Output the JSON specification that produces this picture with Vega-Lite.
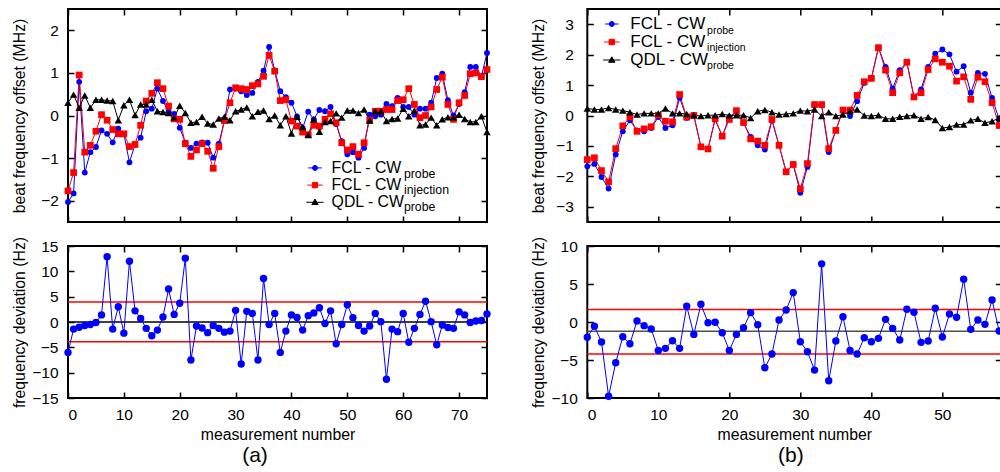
{
  "$schema": "https://vega.github.io/schema/vega-lite/v6.json",
  "background": "white",
  "padding": {"left": 10, "top": 7, "right": 0, "bottom": 0},
  "datasets": {
    "topA": [
      {"n":0,"s1":-2.03,"s2":-1.77,"s3":0.30},{"n":1,"s1":-1.83,"s2":-1.34,"s3":0.49},{"n":2,"s1":0.79,"s2":0.95,"s3":0.18},{"n":3,"s1":-1.34,"s2":-0.86,"s3":0.47},{"n":4,"s1":-0.86,"s2":-0.70,"s3":0.18},
      {"n":5,"s1":-0.74,"s2":-0.37,"s3":0.37},{"n":6,"s1":-0.35,"s2":0.02,"s3":0.37},{"n":7,"s1":-0.43,"s2":-0.11,"s3":0.35},{"n":8,"s1":-0.63,"s2":-0.33,"s3":0.34},{"n":9,"s1":-0.31,"s2":-0.43,"s3":-0.11},
      {"n":10,"s1":-0.43,"s2":-0.43,"s3":0.24},{"n":11,"s1":-1.10,"s2":-0.73,"s3":0.37},{"n":12,"s1":-0.68,"s2":-0.68,"s3":0.01},{"n":13,"s1":-0.52,"s2":-0.23,"s3":0.26},{"n":14,"s1":0.10,"s2":0.34,"s3":0.26},
      {"n":15,"s1":0.16,"s2":0.52,"s3":0.37},{"n":16,"s1":0.63,"s2":0.77,"s3":0.10},{"n":17,"s1":0.34,"s2":0.63,"s3":0.08},{"n":18,"s1":0.09,"s2":0.22,"s3":0.06},{"n":19,"s1":0.04,"s2":-0.08,"s3":-0.05},
      {"n":20,"s1":-0.29,"s2":-0.09,"s3":0.23},{"n":21,"s1":-0.64,"s2":-0.66,"s3":0.06},{"n":22,"s1":-0.76,"s2":-0.96,"s3":-0.17},{"n":23,"s1":-0.66,"s2":-0.81,"s3":-0.15},{"n":24,"s1":-0.63,"s2":-0.66,"s3":-0.03},
      {"n":25,"s1":-0.64,"s2":-0.84,"s3":-0.19},{"n":26,"s1":-0.99,"s2":-1.24,"s3":-0.21},{"n":27,"s1":-0.66,"s2":-0.73,"s3":-0.07},{"n":28,"s1":-0.12,"s2":-0.12,"s3":-0.03},{"n":29,"s1":0.61,"s2":0.30,"s3":-0.11},
      {"n":30,"s1":0.63,"s2":0.65,"s3":0.10},{"n":31,"s1":0.57,"s2":0.63,"s3":0.14},{"n":32,"s1":0.48,"s2":0.61,"s3":0.19},{"n":33,"s1":0.53,"s2":0.70,"s3":-0.02},{"n":34,"s1":0.79,"s2":0.74,"s3":0.09},
      {"n":35,"s1":1.05,"s2":0.92,"s3":0.12},{"n":36,"s1":1.61,"s2":1.41,"s3":-0.08},{"n":37,"s1":1.06,"s2":1.04,"s3":0.0},{"n":38,"s1":0.57,"s2":0.35,"s3":-0.23},{"n":39,"s1":0.43,"s2":0.37,"s3":-0.02},
      {"n":40,"s1":0.30,"s2":-0.13,"s3":-0.42},{"n":41,"s1":-0.02,"s2":-0.25,"s3":-0.03},{"n":42,"s1":-0.30,"s2":-0.39,"s3":-0.27},{"n":43,"s1":0.09,"s2":-0.45,"s3":-0.46},{"n":44,"s1":-0.09,"s2":-0.23,"s3":-0.09},
      {"n":45,"s1":0.13,"s2":-0.25,"s3":-0.38},{"n":46,"s1":0.10,"s2":-0.09,"s3":-0.15},{"n":47,"s1":0.20,"s2":0.04,"s3":-0.13},{"n":48,"s1":-0.20,"s2":-0.17,"s3":0.05},{"n":49,"s1":-0.60,"s2":-0.64,"s3":-0.05},
      {"n":50,"s1":-0.91,"s2":-0.81,"s3":0.12},{"n":51,"s1":-0.86,"s2":-0.73,"s3":0.12},{"n":52,"s1":-0.99,"s2":-0.91,"s3":0.06},{"n":53,"s1":-0.76,"s2":-0.64,"s3":0.14},{"n":54,"s1":0.02,"s2":-0.11,"s3":-0.12},
      {"n":55,"s1":-0.02,"s2":0.10,"s3":0.10},{"n":56,"s1":0.02,"s2":0.10,"s3":0.10},{"n":57,"s1":0.27,"s2":0.14,"s3":-0.13},{"n":58,"s1":0.22,"s2":0.14,"s3":-0.08},{"n":59,"s1":0.41,"s2":0.35,"s3":-0.07},
      {"n":60,"s1":0.20,"s2":0.37,"s3":0.16},{"n":61,"s1":0.20,"s2":0.63,"s3":-0.02},{"n":62,"s1":0.02,"s2":0.26,"s3":0.12},{"n":63,"s1":0.16,"s2":-0.05,"s3":-0.23},{"n":64,"s1":0.16,"s2":0.0,"s3":-0.21},
      {"n":65,"s1":0.30,"s2":0.20,"s3":-0.05},{"n":66,"s1":0.88,"s2":0.61,"s3":-0.23},{"n":67,"s1":0.98,"s2":0.90,"s3":-0.09},{"n":68,"s1":0.36,"s2":0.26,"s3":-0.04},{"n":69,"s1":0.0,"s2":-0.09,"s3":-0.04},
      {"n":70,"s1":0.27,"s2":0.30,"s3":0.02},{"n":71,"s1":0.55,"s2":0.47,"s3":-0.08},{"n":72,"s1":1.14,"s2":0.98,"s3":-0.15},{"n":73,"s1":1.14,"s2":1.00,"s3":-0.15},{"n":74,"s1":0.92,"s2":0.91,"s3":-0.02},
      {"n":75,"s1":1.47,"s2":1.08,"s3":-0.39}
    ],
    "topB": [
      {"n":0,"s1":-1.67,"s2":-1.45,"s3":0.23},{"n":1,"s1":-1.59,"s2":-1.39,"s3":0.20},{"n":2,"s1":-2.02,"s2":-1.81,"s3":0.20},{"n":3,"s1":-2.40,"s2":-2.18,"s3":0.25},{"n":4,"s1":-1.28,"s2":-1.09,"s3":0.20},
      {"n":5,"s1":-0.52,"s2":-0.34,"s3":0.16},{"n":6,"s1":-0.16,"s2":-0.05,"s3":0.11},{"n":7,"s1":-0.49,"s2":-0.52,"s3":0.03},{"n":8,"s1":-0.52,"s2":-0.44,"s3":0.07},{"n":9,"s1":-0.41,"s2":-0.37,"s3":0.07},
      {"n":10,"s1":-0.05,"s2":0.01,"s3":0.07},{"n":11,"s1":-0.41,"s2":-0.19,"s3":0.23},{"n":12,"s1":-0.32,"s2":-0.21,"s3":0.07},{"n":13,"s1":0.58,"s2":0.69,"s3":0.07},{"n":14,"s1":-0.08,"s2":-0.05,"s3":0.05},
      {"n":15,"s1":0.01,"s2":0.0,"s3":0.01},{"n":16,"s1":-1.03,"s2":-1.03,"s3":-0.02},{"n":17,"s1":-1.10,"s2":-1.10,"s3":0.01},{"n":18,"s1":-0.13,"s2":-0.11,"s3":0.01},{"n":19,"s1":-0.68,"s2":-0.68,"s3":0.05},
      {"n":20,"s1":-0.05,"s2":-0.13,"s3":0.0},{"n":21,"s1":0.12,"s2":0.16,"s3":0.01},{"n":22,"s1":-0.24,"s2":-0.23,"s3":0.01},{"n":23,"s1":-0.70,"s2":-0.77,"s3":-0.08},{"n":24,"s1":-0.98,"s2":-0.84,"s3":0.14},
      {"n":25,"s1":-1.12,"s2":-0.98,"s3":0.18},{"n":26,"s1":-0.16,"s2":-0.13,"s3":0.11},{"n":27,"s1":-0.98,"s2":-0.98,"s3":0.03},{"n":28,"s1":-1.85,"s2":-1.85,"s3":0.05},{"n":29,"s1":-1.61,"s2":-1.61,"s3":0.07},
      {"n":30,"s1":-2.54,"s2":-2.41,"s3":0.16},{"n":31,"s1":-1.69,"s2":-1.58,"s3":0.14},{"n":32,"s1":0.34,"s2":0.36,"s3":0.20},{"n":33,"s1":0.34,"s2":0.36,"s3":-0.02},{"n":34,"s1":-1.20,"s2":-1.09,"s3":0.11},
      {"n":35,"s1":-0.49,"s2":-0.49,"s3":-0.02},{"n":36,"s1":0.18,"s2":0.18,"s3":0.03},{"n":37,"s1":-0.02,"s2":0.18,"s3":0.14},{"n":38,"s1":0.47,"s2":0.66,"s3":0.20},{"n":39,"s1":1.07,"s2":1.11,"s3":0.0},
      {"n":40,"s1":1.22,"s2":1.22,"s3":-0.02},{"n":41,"s1":2.23,"s2":2.23,"s3":0.01},{"n":42,"s1":1.60,"s2":1.49,"s3":-0.11},{"n":43,"s1":0.89,"s2":0.75,"s3":-0.11},{"n":44,"s1":1.49,"s2":1.40,"s3":-0.04},
      {"n":45,"s1":1.75,"s2":1.75,"s3":-0.02},{"n":46,"s1":0.61,"s2":0.61,"s3":0.01},{"n":47,"s1":0.86,"s2":0.75,"s3":-0.11},{"n":48,"s1":1.60,"s2":1.51,"s3":-0.05},{"n":49,"s1":2.03,"s2":1.86,"s3":-0.15},
      {"n":50,"s1":2.17,"s2":1.75,"s3":-0.41},{"n":51,"s1":2.01,"s2":1.62,"s3":-0.38},{"n":52,"s1":1.44,"s2":1.13,"s3":-0.30},{"n":53,"s1":1.62,"s2":1.27,"s3":-0.30},{"n":54,"s1":0.75,"s2":0.53,"s3":-0.16},
      {"n":55,"s1":1.40,"s2":1.26,"s3":-0.11},{"n":56,"s1":1.37,"s2":1.11,"s3":-0.24},{"n":57,"s1":0.58,"s2":0.42,"s3":-0.19},{"n":58,"s1":-0.13,"s2":-0.33,"s3":-0.08}
    ],
    "devA": [
      {"n":0,"d":-6.0},{"n":1,"d":-1.4},{"n":2,"d":-1.05},{"n":3,"d":-0.7},{"n":4,"d":-0.5},{"n":5,"d":-0.1},{"n":6,"d":1.4},{"n":7,"d":12.9},{"n":8,"d":-1.4},{"n":9,"d":3.0},
      {"n":10,"d":-2.2},{"n":11,"d":12.0},{"n":12,"d":2.2},{"n":13,"d":0.7},{"n":14,"d":-1.25},{"n":15,"d":-2.7},{"n":16,"d":-1.6},{"n":17,"d":1.0},{"n":18,"d":6.5},{"n":19,"d":1.5},
      {"n":20,"d":3.7},{"n":21,"d":12.6},{"n":22,"d":-7.5},{"n":23,"d":-0.8},{"n":24,"d":-1.2},{"n":25,"d":-2.1},{"n":26,"d":-0.7},{"n":27,"d":-1.25},{"n":28,"d":-2.0},{"n":29,"d":-1.8},
      {"n":30,"d":2.3},{"n":31,"d":-8.3},{"n":32,"d":2.1},{"n":33,"d":1.7},{"n":34,"d":-7.5},{"n":35,"d":8.6},{"n":36,"d":-0.5},{"n":37,"d":1.7},{"n":38,"d":-6.0},{"n":39,"d":-1.8},
      {"n":40,"d":1.4},{"n":41,"d":0.9},{"n":42,"d":-1.6},{"n":43,"d":1.25},{"n":44,"d":1.8},{"n":45,"d":2.8},{"n":46,"d":-0.3},{"n":47,"d":2.2},{"n":48,"d":-4.3},{"n":49,"d":-0.5},
      {"n":50,"d":3.4},{"n":51,"d":0.85},{"n":52,"d":-0.7},{"n":53,"d":-1.8},{"n":54,"d":-0.8},{"n":55,"d":1.7},{"n":56,"d":0.07},{"n":57,"d":-11.3},{"n":58,"d":-1.4},{"n":59,"d":-1.9},
      {"n":60,"d":1.7},{"n":61,"d":-4.0},{"n":62,"d":-1.25},{"n":63,"d":1.5},{"n":64,"d":4.1},{"n":65,"d":0.07},{"n":66,"d":-4.5},{"n":67,"d":-0.6},{"n":68,"d":-1.1},{"n":69,"d":-1.25},
      {"n":70,"d":2.0},{"n":71,"d":1.4},{"n":72,"d":-0.1},{"n":73,"d":0.2},{"n":74,"d":0.3},{"n":75,"d":1.6}
    ],
    "devB": [
      {"n":0,"d":-2.0},{"n":1,"d":-0.57},{"n":2,"d":-2.64},{"n":3,"d":-9.76},{"n":4,"d":-5.36},{"n":5,"d":-1.93},{"n":6,"d":-2.86},{"n":7,"d":0.13},{"n":8,"d":-0.48},{"n":9,"d":-0.92},
      {"n":10,"d":-3.74},{"n":11,"d":-3.47},{"n":12,"d":-2.46},{"n":13,"d":-3.47},{"n":14,"d":2.07},{"n":15,"d":-1.63},{"n":16,"d":2.33},{"n":17,"d":-0.09},{"n":18,"d":-0.04},{"n":19,"d":-1.41},
      {"n":20,"d":-3.74},{"n":21,"d":-1.63},{"n":22,"d":-0.75},{"n":23,"d":1.23},{"n":24,"d":-0.35},{"n":25,"d":-6.02},{"n":26,"d":-4.22},{"n":27,"d":0.26},{"n":28,"d":1.58},{"n":29,"d":3.87},
      {"n":30,"d":-2.59},{"n":31,"d":-3.91},{"n":32,"d":-6.33},{"n":33,"d":7.65},{"n":34,"d":-7.74},{"n":35,"d":-2.51},{"n":36,"d":0.70},{"n":37,"d":-3.74},{"n":38,"d":-4.22},{"n":39,"d":-2.07},
      {"n":40,"d":-2.59},{"n":41,"d":-2.15},{"n":42,"d":0.35},{"n":43,"d":-0.84},{"n":44,"d":-2.37},{"n":45,"d":1.67},{"n":46,"d":1.28},{"n":47,"d":-2.68},{"n":48,"d":-2.51},{"n":49,"d":1.80},
      {"n":50,"d":-1.98},{"n":51,"d":1.06},{"n":52,"d":0.62},{"n":53,"d":5.63},{"n":54,"d":-0.97},{"n":55,"d":0.26},{"n":56,"d":-0.31},{"n":57,"d":2.90},{"n":58,"d":-1.19}
    ],
    "refA": [{"kind":"mean","y":0},{"kind":"bound","y":3.95},{"kind":"bound","y":-3.9}],
    "refB": [{"kind":"mean","y":-1.23},{"kind":"bound","y":1.63},{"kind":"bound","y":-4.22}]
  },
  "columns": 2,
  "spacing": {"row": 24, "column": 100.3},
  "bounds": "flush",
  "resolve": {
    "scale": {"color": "independent", "shape": "independent", "size": "independent"},
    "legend": {"color": "independent", "shape": "independent", "size": "independent"}
  },
  "concat": [
    {
      "width": 419, "height": 213,
      "data": {"name": "topA"},
      "transform": [{"fold": ["s1", "s2", "s3"], "as": ["series", "v"]}],
      "layer": [
        {
          "mark": {"type": "line", "strokeWidth": 1},
          "encoding": {
            "x": {"field": "n", "type": "quantitative", "scale": {"domain": [0, 75], "nice": false, "zero": false},
                  "axis": {"orient": "bottom", "values": [0,10,20,30,40,50,60,70], "labels": false, "title": null}},
            "y": {"field": "v", "type": "quantitative", "scale": {"domain": [-2.5, 2.5], "nice": false, "zero": false},
                  "axis": {"orient": "left", "values": [-2,-1,0,1,2], "title": "beat frequency offset (MHz)", "titleX": -43.5, "titleBaseline": "alphabetic", "labelPadding": 15.7}},
            "color": {"field": "series", "type": "nominal", "scale": {"domain": ["s1","s2","s3"], "range": ["#0000ff","#ff0000","#000000"]}}
          }
        },
        {
          "mark": {"type": "point", "filled": true, "opacity": 1, "strokeWidth": 0},
          "encoding": {
            "x": {"field": "n", "type": "quantitative", "scale": {"domain": [0, 75], "nice": false, "zero": false},
                  "axis": {"orient": "top", "values": [0,10,20,30,40,50,60,70], "labels": false, "title": null}},
            "y": {"field": "v", "type": "quantitative", "scale": {"domain": [-2.5, 2.5], "nice": false, "zero": false},
                  "axis": {"orient": "right", "values": [-2,-1,0,1,2], "labels": false, "title": null}},
            "color": {"field": "series", "type": "nominal", "scale": {"domain": ["s1","s2","s3"], "range": ["#0000ff","#ff0000","#000000"]},
                      "legend": {"orient": "none", "legendX": 239.1, "legendY": 151, "title": null, "padding": 0,
                                 "labelExpr": "datum.label == 's3' ? 'QDL - CW' : 'FCL - CW'",
                                 "labelFontSize": 15.8, "labelOffset": 8.7, "rowPadding": 0.2, "symbolSize": 25,
                                 "encoding": {"symbols": {
                                   "shape": {"value": {"expr": "datum.value == 's1' ? 'M-2.3,0H2.3M0.86,0A0.86,0.86,0,1,1,-0.86,0A0.86,0.86,0,1,1,0.86,0Z' : datum.value == 's2' ? 'M-2.3,0H2.3M-0.8,-0.8H0.8V0.8H-0.8Z' : 'M-2.3,0H2.3M0,-0.85L0.85,0.6H-0.85Z'"}},
                                   "fill": {"value": {"expr": "datum.value == 's1' ? '#0000ff' : datum.value == 's2' ? '#ff0000' : '#000000'"}},
                                   "stroke": {"value": {"expr": "datum.value == 's1' ? '#0000ff' : datum.value == 's2' ? '#ff0000' : '#000000'"}},
                                   "strokeWidth": {"value": 1}, "opacity": {"value": 1}, "fillOpacity": {"value": 1}}}}},
            "shape": {"field": "series", "type": "nominal", "scale": {"domain": ["s3","s1","s2"], "range": ["triangle-up","circle","square"]},
                      "legend": {"orient": "none", "legendX": 323.6, "legendY": 158.5, "title": null, "padding": 0, "values": ["s1","s2","s3"],
                                 "labelExpr": "datum.label == 's2' ? 'injection' : datum.label == 's3' ? '\u00a0probe' : 'probe'",
                                 "labelFontSize": 12.3, "labelOffset": 0, "rowPadding": 3.5, "symbolSize": 4, "symbolOpacity": 0, "symbolStrokeWidth": 0}},
            "size": {"field": "series", "type": "ordinal", "scale": {"domain": ["s1","s2","s3"], "range": [34, 56, 26]}, "legend": null},
            "order": {"field": "series", "type": "ordinal", "sort": "ascending"}
          }
        }
      ],
      "resolve": {"axis": {"x": "independent", "y": "independent"}}
    },
    {
      "width": 414, "height": 213,
      "data": {"name": "topB"},
      "transform": [{"fold": ["s1", "s2", "s3"], "as": ["series", "v"]}],
      "layer": [
        {
          "mark": {"type": "line", "strokeWidth": 1},
          "encoding": {
            "x": {"field": "n", "type": "quantitative", "scale": {"domain": [0, 58.3], "nice": false, "zero": false},
                  "axis": {"orient": "bottom", "values": [0,10,20,30,40,50], "labels": false, "title": null}},
            "y": {"field": "v", "type": "quantitative", "scale": {"domain": [-3.5, 3.5], "nice": false, "zero": false},
                  "axis": {"orient": "left", "values": [-3,-2,-1,0,1,2,3], "title": "beat frequency offset (MHz)", "titleX": -43.5, "titleBaseline": "alphabetic", "labelPadding": 20}},
            "color": {"field": "series", "type": "nominal", "scale": {"domain": ["s1","s2","s3"], "range": ["#0000ff","#ff0000","#000000"]}}
          }
        },
        {
          "mark": {"type": "point", "filled": true, "opacity": 1, "strokeWidth": 0},
          "encoding": {
            "x": {"field": "n", "type": "quantitative", "scale": {"domain": [0, 58.3], "nice": false, "zero": false},
                  "axis": {"orient": "top", "values": [0,10,20,30,40,50], "labels": false, "title": null}},
            "y": {"field": "v", "type": "quantitative", "scale": {"domain": [-3.5, 3.5], "nice": false, "zero": false},
                  "axis": {"orient": "right", "values": [-3,-2,-1,0,1,2,3], "labels": false, "title": null}},
            "color": {"field": "series", "type": "nominal", "scale": {"domain": ["s1","s2","s3"], "range": ["#0000ff","#ff0000","#000000"]},
                      "legend": {"orient": "none", "legendX": 16, "legendY": 6.5, "title": null, "padding": 0,
                                 "labelExpr": "datum.label == 's3' ? 'QDL - CW' : 'FCL - CW'",
                                 "labelFontSize": 17, "labelOffset": 10, "rowPadding": 0, "symbolSize": 25,
                                 "encoding": {"symbols": {
                                   "shape": {"value": {"expr": "datum.value == 's1' ? 'M-2.3,0H2.3M0.86,0A0.86,0.86,0,1,1,-0.86,0A0.86,0.86,0,1,1,0.86,0Z' : datum.value == 's2' ? 'M-2.3,0H2.3M-0.8,-0.8H0.8V0.8H-0.8Z' : 'M-2.3,0H2.3M0,-0.85L0.85,0.6H-0.85Z'"}},
                                   "fill": {"value": {"expr": "datum.value == 's1' ? '#0000ff' : datum.value == 's2' ? '#ff0000' : '#000000'"}},
                                   "stroke": {"value": {"expr": "datum.value == 's1' ? '#0000ff' : datum.value == 's2' ? '#ff0000' : '#000000'"}},
                                   "strokeWidth": {"value": 1}, "opacity": {"value": 1}, "fillOpacity": {"value": 1}}}}},
            "shape": {"field": "series", "type": "nominal", "scale": {"domain": ["s3","s1","s2"], "range": ["triangle-up","circle","square"]},
                      "legend": {"orient": "none", "legendX": 109.3, "legendY": 16.6, "title": null, "padding": 0, "values": ["s1","s2","s3"],
                                 "labelExpr": "datum.label == 's2' ? 'injection' : datum.label == 's3' ? '\u00a0probe' : 'probe'",
                                 "labelFontSize": 10.5, "labelOffset": 0, "rowPadding": 6.5, "symbolSize": 4, "symbolOpacity": 0, "symbolStrokeWidth": 0}},
            "size": {"field": "series", "type": "ordinal", "scale": {"domain": ["s1","s2","s3"], "range": [34, 56, 26]}, "legend": null},
            "order": {"field": "series", "type": "ordinal", "sort": "ascending"}
          }
        }
      ],
      "resolve": {"axis": {"x": "independent", "y": "independent"}}
    },
    {
      "width": 419, "height": 152,
      "title": {"text": "(a)", "orient": "bottom", "anchor": "middle", "dx": -22.5, "offset": 3},
      "layer": [
        {
          "data": {"name": "refA"}, "transform": [{"filter": "datum.kind == 'bound'"}],
          "mark": {"type": "rule", "color": "#ff0000", "strokeWidth": 1.5},
          "encoding": {"y": {"field": "y", "type": "quantitative", "scale": {"domain": [-15, 15], "nice": false, "zero": false},
                             "axis": {"orient": "right", "values": [-15,-10,-5,0,5,10,15], "labels": false, "title": null}}}
        },
        {
          "data": {"name": "refA"}, "transform": [{"filter": "datum.kind == 'mean'"}],
          "mark": {"type": "rule", "color": "#000000", "strokeWidth": 1.5},
          "encoding": {"y": {"field": "y", "type": "quantitative", "scale": {"domain": [-15, 15], "nice": false, "zero": false}, "axis": null}}
        },
        {
          "data": {"name": "devA"},
          "mark": {"type": "line", "color": "#0000ff", "strokeWidth": 1},
          "encoding": {
            "x": {"field": "n", "type": "quantitative", "scale": {"domain": [0, 75], "nice": false, "zero": false},
                  "axis": {"orient": "bottom", "values": [0,10,20,30,40,50,60,70], "title": "measurement number", "titleY": 41, "titleBaseline": "alphabetic"}},
            "y": {"field": "d", "type": "quantitative", "scale": {"domain": [-15, 15], "nice": false, "zero": false},
                  "axis": {"orient": "left", "values": [-15,-10,-5,0,5,10,15], "title": "frequency deviation (Hz)", "titleX": -43.5, "titleBaseline": "alphabetic", "labelPadding": 16}}
          }
        },
        {
          "data": {"name": "devA"},
          "mark": {"type": "point", "filled": true, "color": "#0000ff", "size": 55, "opacity": 1},
          "encoding": {
            "x": {"field": "n", "type": "quantitative", "scale": {"domain": [0, 75], "nice": false, "zero": false},
                  "axis": {"orient": "top", "values": [0,10,20,30,40,50,60,70], "labels": false, "title": null}},
            "y": {"field": "d", "type": "quantitative", "scale": {"domain": [-15, 15], "nice": false, "zero": false}, "axis": null}
          }
        }
      ],
      "resolve": {"axis": {"x": "independent", "y": "independent"}}
    },
    {
      "width": 414, "height": 152,
      "title": {"text": "(b)", "orient": "bottom", "anchor": "middle", "dx": -3.5, "offset": 3},
      "layer": [
        {
          "data": {"name": "refB"}, "transform": [{"filter": "datum.kind == 'bound'"}],
          "mark": {"type": "rule", "color": "#ff0000", "strokeWidth": 1.5},
          "encoding": {"y": {"field": "y", "type": "quantitative", "scale": {"domain": [-10, 10], "nice": false, "zero": false},
                             "axis": {"orient": "right", "values": [-10,-5,0,5,10], "labels": false, "title": null}}}
        },
        {
          "data": {"name": "refB"}, "transform": [{"filter": "datum.kind == 'mean'"}],
          "mark": {"type": "rule", "color": "#505050", "strokeWidth": 1.5},
          "encoding": {"y": {"field": "y", "type": "quantitative", "scale": {"domain": [-10, 10], "nice": false, "zero": false}, "axis": null}}
        },
        {
          "data": {"name": "devB"},
          "mark": {"type": "line", "color": "#0000ff", "strokeWidth": 1},
          "encoding": {
            "x": {"field": "n", "type": "quantitative", "scale": {"domain": [0, 58.3], "nice": false, "zero": false},
                  "axis": {"orient": "bottom", "values": [0,10,20,30,40,50], "title": "measurement number", "titleY": 41, "titleBaseline": "alphabetic"}},
            "y": {"field": "d", "type": "quantitative", "scale": {"domain": [-10, 10], "nice": false, "zero": false},
                  "axis": {"orient": "left", "values": [-10,-5,0,5,10], "title": "frequency deviation (Hz)", "titleX": -43.5, "titleBaseline": "alphabetic", "labelPadding": 16}}
          }
        },
        {
          "data": {"name": "devB"},
          "mark": {"type": "point", "filled": true, "color": "#0000ff", "size": 55, "opacity": 1},
          "encoding": {
            "x": {"field": "n", "type": "quantitative", "scale": {"domain": [0, 58.3], "nice": false, "zero": false},
                  "axis": {"orient": "top", "values": [0,10,20,30,40,50], "labels": false, "title": null}},
            "y": {"field": "d", "type": "quantitative", "scale": {"domain": [-10, 10], "nice": false, "zero": false}, "axis": null}
          }
        }
      ],
      "resolve": {"axis": {"x": "independent", "y": "independent"}}
    }
  ],
  "config": {
    "font": "Liberation Sans",
    "view": {"stroke": "#000000", "strokeWidth": 2},
    "axis": {
      "domain": false, "grid": false, "ticks": true, "tickSize": -6, "tickWidth": 1.5, "tickColor": "#000000",
      "labelFont": "Liberation Sans", "labelFontSize": 15.5, "labelColor": "#000000", "labelPadding": 15.5,
      "titleFont": "Liberation Sans", "titleFontSize": 15.8, "titleFontWeight": "normal", "titleColor": "#000000"
    },
    "legend": {"labelFont": "Liberation Sans", "labelColor": "#000000", "padding": 0},
    "title": {"font": "Liberation Sans", "fontSize": 21, "fontWeight": "normal", "color": "#000000"}
  }
}
